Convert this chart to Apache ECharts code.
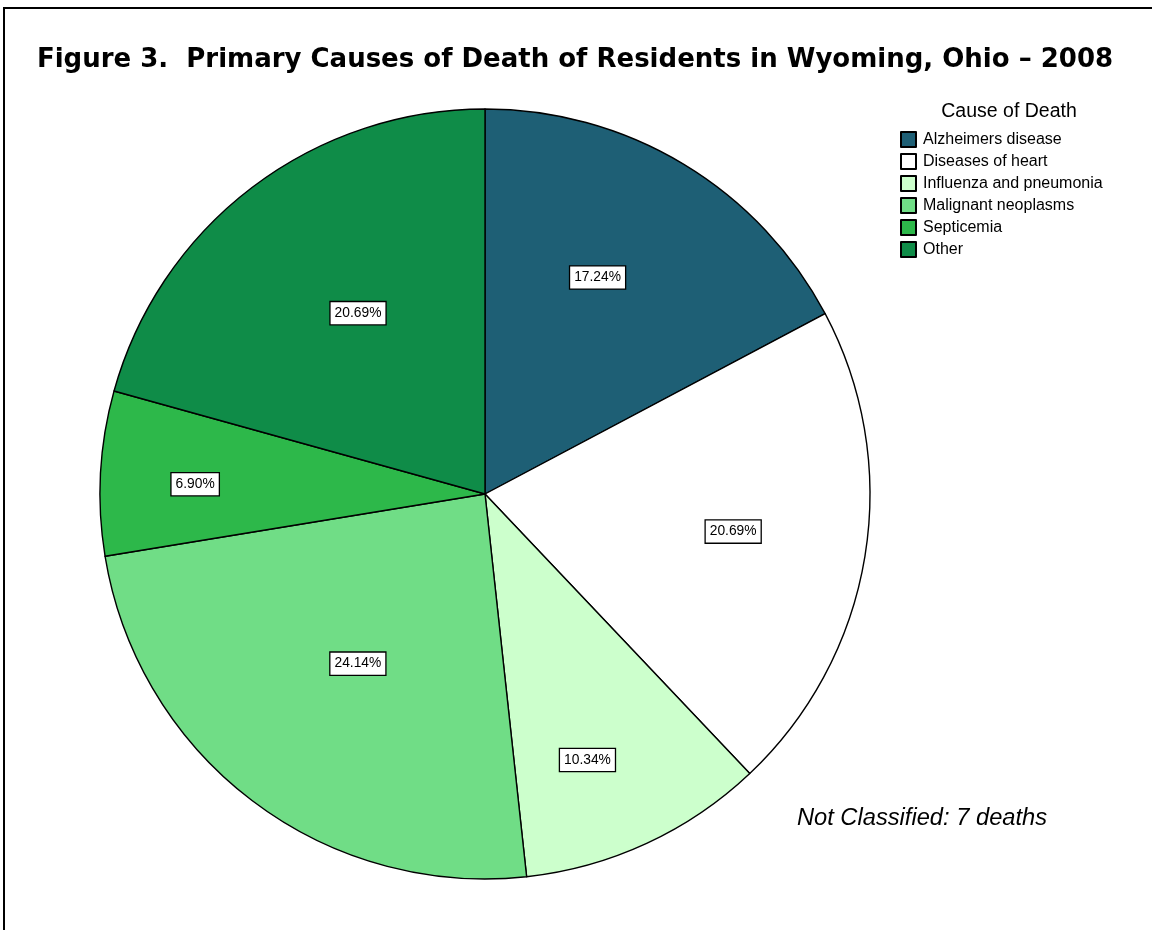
<!DOCTYPE html>
<html>
<head>
<meta charset="utf-8">
<script src="https://cdn.jsdelivr.net/npm/echarts@6/dist/echarts.min.js"></script>
<style>
  html, body { margin: 0; padding: 0; background: #fff; }
  #chart { width: 1152px; height: 930px; position: absolute; left: 0; top: 0; }
  #frame { position: absolute; left: 3px; top: 7px; width: 1149px; height: 923px;
           border-top: 2px solid #000; border-left: 2px solid #000; box-sizing: border-box; pointer-events: none; }
</style>
</head>
<body>
<div id="chart"></div>
<div id="frame"></div>
<script>
const titleText = 'Figure 3.  Primary Causes of Death of Residents in Wyoming, Ohio \u2013 2008';
const legendTitle = 'Cause of Death';
const noteText = 'Not Classified: 7 deaths';
const categories = ['Alzheimers disease', 'Diseases of heart', 'Influenza and pneumonia', 'Malignant neoplasms', 'Septicemia', 'Other'];
const deaths = [5, 6, 3, 7, 2, 6];
const colors = ['#1e5f75', '#ffffff', '#ccffcc', '#70dd86', '#2db84a', '#0f8c48'];

// label placement (style): radial distance in px and small angular shift in degrees
const labelDist = [241, 248, 282, 209, 287, 218];
const labelShift = [-3.6, -0.7, 3.8, -0.4, -1.2, 2.2];
const R = 385;

const total = deaths.reduce((a, b) => a + b, 0);
const midAngles = [];
let acc = 0;
deaths.forEach(v => { midAngles.push((acc + v / 2) / total * 360); acc += v; });

const chart = echarts.init(document.getElementById('chart'));
chart.setOption({
  animation: false,
  title: [
    { text: titleText, left: 570, top: 42, textAlign: 'center',
      textStyle: { fontFamily: 'DejaVu Sans', fontWeight: 'bold', fontSize: 26, color: '#000' } },
    { text: legendTitle, left: 1004, top: 97, textAlign: 'center',
      textStyle: { fontFamily: 'Liberation Sans', fontWeight: 'normal', fontSize: 19.5, color: '#000' } },
    { text: noteText, left: 917, top: 801, textAlign: 'center',
      textStyle: { fontFamily: 'Liberation Sans', fontStyle: 'italic', fontWeight: 'normal', fontSize: 23.7, color: '#000' } }
  ],
  legend: {
    orient: 'vertical', left: 895, top: 126,
    itemWidth: 15, itemHeight: 15, itemGap: 5, icon: 'rect',
    textStyle: { fontFamily: 'Liberation Sans', fontSize: 16, color: '#000', padding: [0, 0, 0, 2] },
    data: categories
  },
  series: [{
    type: 'pie',
    center: [485, 494],
    radius: [0, R],
    startAngle: 90,
    clockwise: true,
    silent: true,
    itemStyle: { borderColor: '#000', borderWidth: 1.4 },
    label: {
      show: true, position: 'inside',
      formatter: p => p.percent.toFixed(2) + '%',
      fontFamily: 'Liberation Sans', fontSize: 13.8, color: '#000',
      backgroundColor: '#fff', borderColor: '#000', borderWidth: 1.3,
      padding: [4, 4, 3, 4], lineHeight: 15
    },
    labelLayout: function (params) {
      const i = params.dataIndex;
      const m = midAngles[i] * Math.PI / 180;
      const t = (midAngles[i] + labelShift[i]) * Math.PI / 180;
      const d = labelDist[i];
      const dx = d * Math.sin(t) - (R / 2) * Math.sin(m);
      const dy = -d * Math.cos(t) + (R / 2) * Math.cos(m);
      return { dx: dx, dy: dy };
    },
    labelLine: { show: false },
    data: categories.map((c, i) => ({ name: c, value: deaths[i], itemStyle: { color: colors[i] } }))
  }]
});
</script>
</body>
</html>
